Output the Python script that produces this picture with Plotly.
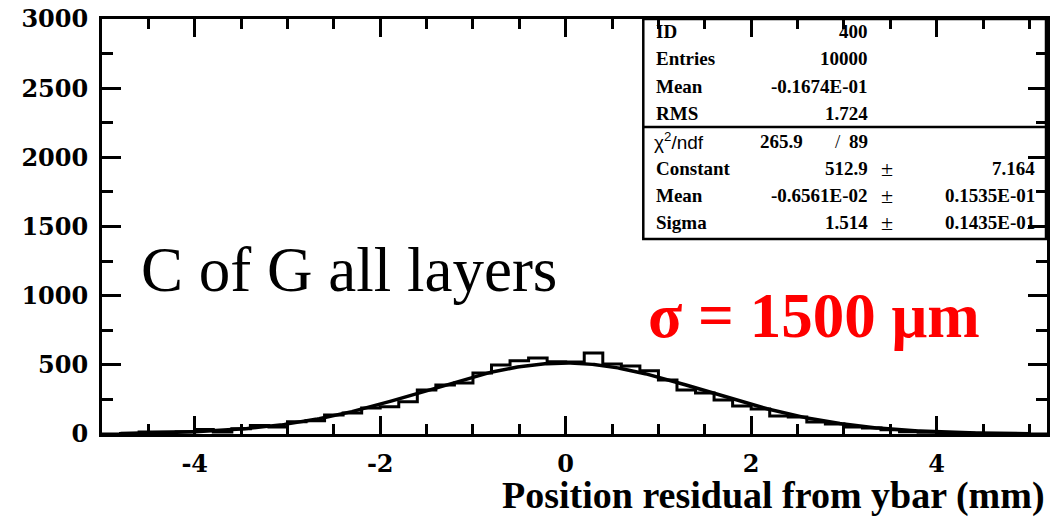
import numpy as np
import plotly.graph_objects as go

# Histogram 400: residual of the C-of-G position, 0.2 mm bins
bin_low_edges = [-5.0, -4.8, -4.6, -4.4, -4.2, -4.0, -3.8, -3.6, -3.4, -3.2,
                 -3.0, -2.8, -2.6, -2.4, -2.2, -2.0, -1.8, -1.6, -1.4, -1.2,
                 -1.0, -0.8, -0.6, -0.4, -0.2, 0.0, 0.2, 0.4, 0.6, 0.8,
                 1.0, 1.2, 1.4, 1.6, 1.8, 2.0, 2.2, 2.4, 2.6, 2.8,
                 3.0, 3.2, 3.4, 3.6, 3.8, 4.0, 4.2, 4.4, 4.6, 4.8, 5.0]
bin_counts = [0, 3, 14, 15, 16, 32, 14, 38, 62, 50,
              89, 96, 137, 152, 188, 197, 234, 318, 354, 369,
              441, 499, 530, 549, 523, 520, 585, 506, 492, 458,
              390, 318, 296, 246, 202, 180, 130, 123, 87, 72,
              51, 43, 30, 17, 12, 8, 5, 4, 2, 1, 0]
bin_width = 0.2

# Gaussian fit results
fit_constant = 512.9
fit_mean = -0.6561e-02
fit_sigma = 1.514

# Statistics box rows
stat_rows = [("ID", "400"), ("Entries", "10000"),
             ("Mean", "-0.1674E-01"), ("RMS", "1.724")]
chi2_value = "265.9"
ndf_value = "89"
fit_rows = [("Constant", "512.9", "7.164"),
            ("Mean", "-0.6561E-02", "0.1535E-01"),
            ("Sigma", "1.514", "0.1435E-01")]

x_tick_vals = [-4, -2, 0, 2, 4]
y_tick_vals = [0, 500, 1000, 1500, 2000, 2500, 3000]

W, H = 1054, 517
L, R, T, B = 102, 1050, 19, 434      # plot frame in pixels


def px(x):
    return (x - L) / (R - L)


def py(y):
    return (B - y) / (B - T)


SERIF = "Liberation Serif"
TICK_FONT = dict(family="DejaVu Serif", size=24, color="black", weight="bold")

fig = go.Figure()

# histogram outline drawn as steps
step_x = list(bin_low_edges) + [bin_low_edges[-1] + bin_width]
step_y = list(bin_counts) + [bin_counts[-1]]
fig.add_trace(go.Scatter(x=step_x, y=step_y, mode="lines",
                         line=dict(shape="hv", color="black", width=3),
                         hoverinfo="skip", showlegend=False))

# fitted gaussian
xf = np.linspace(-4.8, 5.0, 500)
yf = fit_constant * np.exp(-0.5 * ((xf - fit_mean) / fit_sigma) ** 2)
fig.add_trace(go.Scatter(x=xf, y=yf, mode="lines",
                         line=dict(color="black", width=3.5),
                         hoverinfo="skip", showlegend=False))

axis_common = dict(showgrid=False, zeroline=False, showline=True,
                   linecolor="black", linewidth=3, mirror="allticks",
                   ticks="inside", tickcolor="black", tickwidth=2.5)

fig.update_xaxes(range=[-5.0, 5.19], tickmode="array", tickvals=x_tick_vals,
                 ticktext=[str(v) for v in x_tick_vals], ticklen=18,
                 tickfont=TICK_FONT, ticklabelstandoff=6,
                 minor=dict(dtick=0.5, tick0=0, ticklen=10, ticks="inside",
                            tickcolor="black", tickwidth=2.5, showgrid=False),
                 **axis_common)
fig.update_yaxes(range=[0, 3000], tickmode="array", tickvals=y_tick_vals,
                 ticktext=[str(v) for v in y_tick_vals], ticklen=19,
                 tickfont=TICK_FONT, ticklabelstandoff=6,
                 minor=dict(dtick=250, tick0=0, ticklen=11, ticks="inside",
                            tickcolor="black", tickwidth=2.5, showgrid=False),
                 **axis_common)

shapes = []
# statistics box frame and divider
bx0, bx1, by0, by1 = 645, 1049, 19, 239
shapes.append(dict(type="rect", xref="paper", yref="paper",
                   x0=px(bx0), x1=px(bx1), y0=py(by1), y1=py(by0),
                   line=dict(color="black", width=2.5), fillcolor="white",
                   layer="below"))
shapes.append(dict(type="line", xref="paper", yref="paper",
                   x0=px(bx0), x1=px(bx1), y0=py(127), y1=py(127),
                   line=dict(color="black", width=2.5)))

ann = []


def text(x, y, s, anchor="left", size=19, family=SERIF, bold=True, color="black"):
    content = f"<b>{s}</b>" if bold else s
    ann.append(dict(x=px(x), y=py(y), xref="paper", yref="paper", text=content,
                    showarrow=False, xanchor=anchor, yanchor="middle",
                    font=dict(family=family, size=size, color=color)))


row_y = [32, 59, 87, 114]
for (lab, val), yy in zip(stat_rows, row_y):
    text(656, yy, lab)
    text(872, yy, val, anchor="right")

text(654, 141, "χ<sup>2</sup>/ndf", family="Liberation Sans", bold=False, size=19)
text(760, 141, chi2_value)
text(840, 141, "/", anchor="center", bold=False)
text(872, 141, ndf_value, anchor="right")

for (lab, val, err), yy in zip(fit_rows, [168, 196, 223]):
    text(656, yy, lab)
    text(872, yy, val, anchor="right")
    text(889, yy, "±", anchor="center", bold=False, size=22)
    text(1040, yy, err, anchor="right")

# plot annotations
text(139, 270, "C of G all layers", size=63, bold=False)
text(648, 316, "σ = 1500 μm", size=63, color="#ff0000")

# x-axis title, right-aligned to the frame
ann.append(dict(x=1.0, y=py(495), xref="paper", yref="paper",
                text="<b>Position residual from ybar (mm)</b>", showarrow=False,
                xanchor="right", yanchor="middle",
                font=dict(family=SERIF, size=38, color="black")))

fig.update_layout(width=W, height=H, margin=dict(l=L, r=W - R, t=T, b=H - B),
                  plot_bgcolor="white", paper_bgcolor="white",
                  shapes=shapes, annotations=ann, showlegend=False)

fig.write_html("out.html")
